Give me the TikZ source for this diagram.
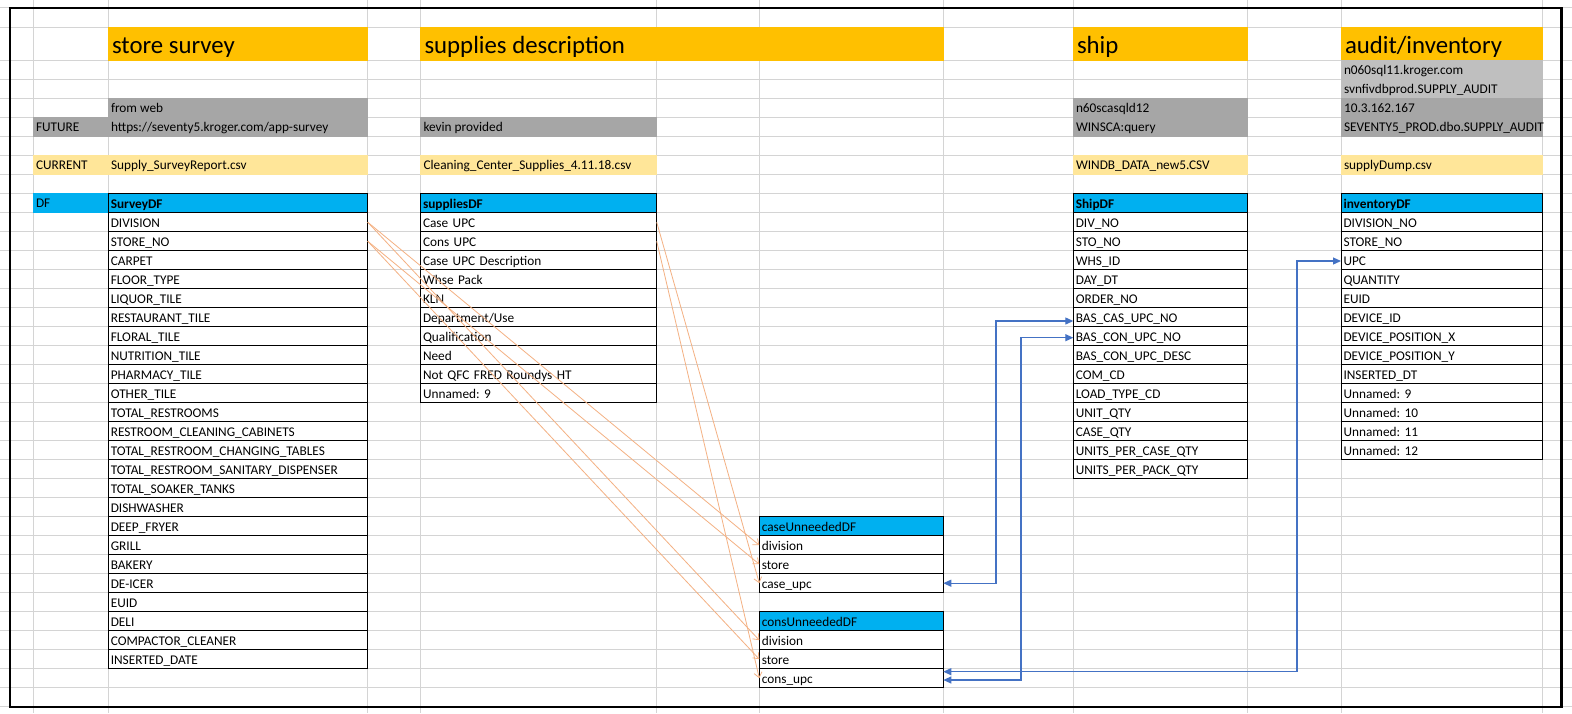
\documentclass[tikz,border=0pt]{standalone}
\usepackage{fontspec}
\setmainfont{Carlito}
\usetikzlibrary{arrows.meta}
\frenchspacing
\definecolor{gridc}{HTML}{D4D4D4}
\definecolor{titleor}{HTML}{FFC000}
\definecolor{lgrey}{HTML}{BFBFBF}
\definecolor{dgrey}{HTML}{A6A6A6}
\definecolor{lyel}{HTML}{FFE699}
\definecolor{dfblue}{HTML}{00B0F0}
\definecolor{lnor}{HTML}{F4B183}
\definecolor{lnbl}{HTML}{4472C4}
\newcommand\cellfont{\fontsize{13.3pt}{16pt}\selectfont}
\newcommand\titlefont{\fontsize{24.8pt}{30pt}\selectfont}
% #1 prefix, #2 x, #3 top y, #4 text width, #5 header font, #6 header text, #7 list
\newcommand\dftab[7]{%
  \node[cell, fill=dfblue, text width=#4, font=#5] (#1h) at (#2,#3) {#6};
  \foreach \t [count=\i] in {#7} {
    \node[cell, text width=#4] (#1\i) at (#2,{#3+19*\i}) {\t};
  }%
}
\begin{document}
\begin{tikzpicture}[x=1pt,y=-1pt,
  gridline/.style={draw=gridc, line width=1pt},
  cell/.style={draw=black, line width=0.8pt, rectangle, anchor=north west,
    minimum height=19pt, inner xsep=2.5pt, inner ysep=0pt, outer sep=0pt,
    text height=14.4pt, text depth=4.6pt, align=left, font=\cellfont},
  lbl/.style={anchor=base west, inner sep=0pt, outer sep=0pt, font=\cellfont},
  ttl/.style={anchor=base west, inner sep=0pt, outer sep=0pt, font=\titlefont},
  oarr/.style={draw=lnor, line width=0.8pt, arrows={-Straight Barb[length=5pt,width=8pt]}},
  barr/.style={draw=lnbl, line width=1.2pt, arrows={Triangle[length=8pt,width=7pt]-Triangle[length=8pt,width=7pt]}}
]
\useasboundingbox (0,0) rectangle (1572,713);
\fill[white] (0,0) rectangle (1572,713);
% grid
\draw[gridline] (0,7.3) -- (1572,7.3);
\draw[gridline] (0,27.3) -- (1572,27.3);
\foreach \n in {0,...,34} \draw[gridline] (0,{60.7+19*\n}) -- (1572,{60.7+19*\n});
\foreach \x in {33.3,108.3,367.7,420.5,656.7,759.3,943.3,1073.3,1247.5,1341,1542}
  \draw[gridline] (\x,0) -- (\x,713);
% title fills
\fill[titleor] (107.8,26.8) rectangle (368.2,61.2);
\fill[titleor] (420,26.8) rectangle (943.8,61.2);
\fill[titleor] (1072.8,26.8) rectangle (1248,61.2);
\fill[titleor] (1340.5,26.8) rectangle (1542.5,61.2);
% grey fills
\fill[lgrey] (1340.5,60.2) rectangle (1542.5,99.2);
\fill[dgrey] (107.8,98.2) rectangle (368.2,137.2);
\fill[dgrey] (32.8,117.2) rectangle (108.3,137.2);
\fill[dgrey] (420,117.2) rectangle (657.2,137.2);
\fill[dgrey] (1072.8,98.2) rectangle (1248,137.2);
\fill[dgrey] (1340.5,98.2) rectangle (1542.5,137.2);
% light yellow fills
\fill[lyel] (32.8,155.2) rectangle (368.2,175.2);
\fill[lyel] (420,155.2) rectangle (657.2,175.2);
\fill[lyel] (1072.8,155.2) rectangle (1248,175.2);
\fill[lyel] (1340.5,155.2) rectangle (1542.5,175.2);
% DF fill
\fill[dfblue] (32.8,193.2) rectangle (108.3,213.2);
% titles
\node[ttl] (tSurvey) at (112,53.3) {store survey};
\node[ttl] (tSupplies) at (424.5,53.3) {supplies description};
\node[ttl] (tShip) at (1077,53.3) {ship};
\node[ttl] (tAudit) at (1345,53.3) {audit/inventory};
% info texts
\node[lbl] (aSrv) at (1344,74.9) {n060sql11.kroger.com};
\node[lbl] (aDb) at (1344,93.9) {svnfivdbprod.SUPPLY\_AUDIT};
\node[lbl] (fWeb) at (111,112.9) {from web};
\node[lbl] (sSrv) at (1076,112.9) {n60scasqld12};
\node[lbl] (aIp) at (1344,112.9) {10.3.162.167};
\node[lbl] (lFuture) at (36,131.9) {FUTURE};
\node[lbl] (fUrl) at (111,131.9) {https://seventy5.kroger.com/app-survey};
\node[lbl] (kProv) at (423.5,131.9) {kevin provided};
\node[lbl] (sQry) at (1076,131.9) {WINSCA:query};
\node[lbl] (aTbl) at (1344,131.9) {SEVENTY5\_PROD.dbo.SUPPLY\_AUDIT};
\node[lbl] (lCurrent) at (36,169.9) {CURRENT};
\node[lbl] (cSurvey) at (111,169.9) {Supply\_SurveyReport.csv};
\node[lbl] (cSupplies) at (423.5,169.9) {Cleaning\_Center\_Supplies\_4.11.18.csv};
\node[lbl] (cShip) at (1076,169.9) {WINDB\_DATA\_new5.CSV};
\node[lbl] (cAudit) at (1344,169.9) {supplyDump.csv};
\node[lbl] (lDF) at (36,207.9) {DF};
% tables
\dftab{sv}{108.3}{193.7}{254.4pt}{\cellfont\bfseries}{SurveyDF}{DIVISION,STORE\_NO,CARPET,FLOOR\_TYPE,LIQUOR\_TILE,RESTAURANT\_TILE,FLORAL\_TILE,NUTRITION\_TILE,PHARMACY\_TILE,OTHER\_TILE,TOTAL\_RESTROOMS,RESTROOM\_CLEANING\_CABINETS,TOTAL\_RESTROOM\_CHANGING\_TABLES,TOTAL\_RESTROOM\_SANITARY\_DISPENSER,TOTAL\_SOAKER\_TANKS,DISHWASHER,DEEP\_FRYER,GRILL,BAKERY,DE-ICER,EUID,DELI,COMPACTOR\_CLEANER,INSERTED\_DATE}
\dftab{su}{420.5}{193.7}{231.2pt}{\cellfont\bfseries}{suppliesDF}{Case UPC,Cons UPC,Case UPC Description,Whse Pack,KLN,Department/Use,Qualification,Need,Not QFC FRED Roundys HT,Unnamed: 9}
\dftab{sh}{1073.3}{193.7}{169.2pt}{\cellfont\bfseries}{ShipDF}{DIV\_NO,STO\_NO,WHS\_ID,DAY\_DT,ORDER\_NO,BAS\_CAS\_UPC\_NO,BAS\_CON\_UPC\_NO,BAS\_CON\_UPC\_DESC,COM\_CD,LOAD\_TYPE\_CD,UNIT\_QTY,CASE\_QTY,UNITS\_PER\_CASE\_QTY,UNITS\_PER\_PACK\_QTY}
\dftab{in}{1341}{193.7}{196pt}{\cellfont\bfseries}{inventoryDF}{DIVISION\_NO,STORE\_NO,UPC,QUANTITY,EUID,DEVICE\_ID,DEVICE\_POSITION\_X,DEVICE\_POSITION\_Y,INSERTED\_DT,Unnamed: 9,Unnamed: 10,Unnamed: 11,Unnamed: 12}
\dftab{ca}{759.3}{516.7}{179pt}{\cellfont}{caseUnneededDF}{division,store,case\_upc}
\dftab{co}{759.3}{611.7}{179pt}{\cellfont}{consUnneededDF}{division,store,cons\_upc}
% orange connectors
\draw[oarr] (sv1.east) -- (ca1.west);
\draw[oarr] (sv1.east) -- (co1.west);
\draw[oarr] (sv2.east) -- (ca2.west);
\draw[oarr] (sv2.east) -- (co2.west);
\draw[oarr] (su1.east) -- (ca3.west);
\draw[oarr] (su2.east) -- (co3.west);
% blue connectors
\coordinate (pA) at ([yshift=-3.8pt]sh6.west);
\coordinate (pB) at ([yshift=-1.5pt]sh7.west);
\coordinate (pC) at ([yshift=-0.8pt]in3.west);
\coordinate (qB) at ([yshift=-1.8pt]co3.east);
\coordinate (qC) at ([yshift=6.5pt]co3.east);
\draw[barr] (ca3.east) -- ++(52.7,0) |- (pA);
\draw[barr] (qB) -- ++(77.7,0) |- (pB);
\draw[barr] (qC) -- ++(353.7,0) |- (pC);
% outer border
\draw[black, line width=2.2pt] (10.3,8.3) rectangle (1561.5,706.7);
\end{tikzpicture}
\end{document}
